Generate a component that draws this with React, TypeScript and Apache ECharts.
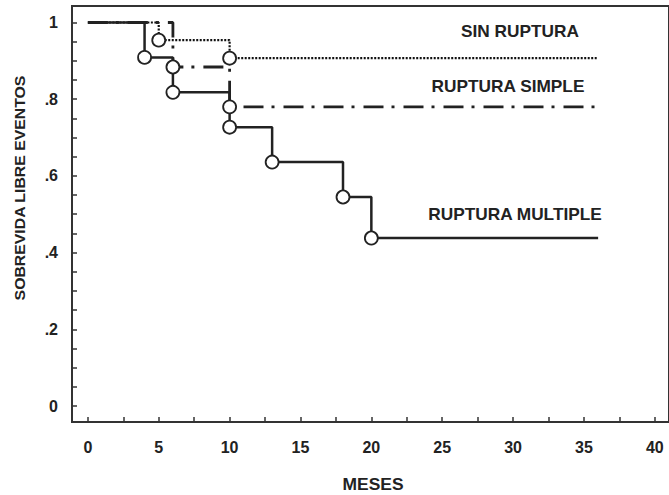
import React, { useEffect, useRef } from "react";
import * as echarts from "echarts";

// Kaplan-Meier step data (months, survival)
const SIN_MONTHS = [0, 5, 10, 36];
const SIN_VALUES = [1, 0.954, 0.907, 0.907];
const SIMPLE_MONTHS = [0, 6, 10, 36];
const SIMPLE_VALUES = [1, 0.884, 0.78, 0.78];
const MULTI_MONTHS = [0, 4, 6, 10, 13, 18, 20, 36];
const MULTI_VALUES = [1, 0.909, 0.818, 0.727, 0.636, 0.545, 0.438, 0.438];

const X_TICKS = [0, 2.5, 5, 7.5, 10, 12.5, 15, 17.5, 20, 22.5, 25, 27.5, 30, 32.5, 35, 37.5, 40];
const X_LABELS = [0, 5, 10, 15, 20, 25, 30, 35, 40];
const Y_TICKS = [0, 0.05, 0.1, 0.15, 0.2, 0.25, 0.3, 0.35, 0.4, 0.45, 0.5, 0.55, 0.6, 0.65, 0.7, 0.75, 0.8, 0.85, 0.9, 0.95, 1];
const Y_LABELS = [0, 0.2, 0.4, 0.6, 0.8, 1];

const SERIES_NAMES = ["SIN RUPTURA", "RUPTURA SIMPLE", "RUPTURA MULTIPLE"];
const X_TITLE = "MESES";
const Y_TITLE = "SOBREVIDA LIBRE EVENTOS";

const INK = "#222";
const FONT = "'Liberation Sans', Arial, sans-serif";

function pairs(xs: number[], ys: number[]) {
  return xs.map((x, i) => [x, ys[i]]);
}
function events(xs: number[], ys: number[]) {
  return pairs(xs, ys).slice(1, -1);
}

export default function App() {
  const ref = useRef<HTMLDivElement>(null);
  useEffect(() => {
    if (!ref.current) return;
    const chart = echarts.init(ref.current, null, { renderer: "svg" });
    const circleStyle = {
      color: "#fff",
      borderColor: INK,
      borderWidth: 1.8,
      opacity: 1,
    };
    const label = (text: string, x: number, y: number, size: number, sx: number) => ({
      type: "text",
      x,
      y,
      scaleX: sx,
      style: {
        text,
        font: `bold ${size}px ${FONT}`,
        fill: INK,
        textAlign: "center",
        textVerticalAlign: "middle",
      },
    });
    const scatter = (data: number[][]) => ({
      type: "scatter",
      data,
      symbol: "circle",
      symbolSize: 13,
      itemStyle: circleStyle,
      emphasis: { disabled: true },
      z: 5,
    });
    chart.setOption({
      animation: false,
      grid: {
        left: 72,
        top: 6,
        right: -3,
        bottom: 73,
        show: true,
        borderColor: "#333",
        borderWidth: 2,
      },
      xAxis: {
        type: "value",
        min: -1.12,
        max: 41,
        axisLine: { show: true, onZero: false, lineStyle: { color: "#333", width: 2 } },
        axisTick: {
          show: true,
          inside: true,
          length: 5,
          customValues: X_TICKS,
          lineStyle: { color: "#333", width: 1.5 },
        },
        axisLabel: {
          customValues: X_LABELS,
          margin: 17,
          fontSize: 16,
          fontWeight: "bold",
          fontFamily: FONT,
          color: INK,
        },
        splitLine: { show: false },
      },
      yAxis: {
        type: "value",
        min: -0.0417,
        max: 1.043,
        axisLine: { show: true, onZero: false, lineStyle: { color: "#333", width: 2 } },
        axisTick: {
          show: true,
          inside: true,
          length: 5,
          customValues: Y_TICKS,
          lineStyle: { color: "#333", width: 1.5 },
        },
        axisLabel: {
          customValues: Y_LABELS,
          margin: 14,
          fontSize: 16,
          fontWeight: "bold",
          fontFamily: FONT,
          color: INK,
          formatter: (v: number) => {
            if (v === 0) return "0";
            if (v === 1) return "1";
            return "." + Math.round(v * 10);
          },
        },
        splitLine: { show: false },
      },
      graphic: [
        label(SERIES_NAMES[0], 520, 32, 16, 1.08),
        label(SERIES_NAMES[1], 508, 87, 16, 1.08),
        label(SERIES_NAMES[2], 515, 215, 16, 1.08),
        label(X_TITLE, 373, 485, 16, 1.09),
        { ...label(Y_TITLE, 20, 188, 14, 1.13), rotation: Math.PI / 2 },
      ],
      series: [
        {
          name: SERIES_NAMES[0],
          type: "line",
          step: "end",
          data: pairs(SIN_MONTHS, SIN_VALUES),
          showSymbol: false,
          lineStyle: { color: "#111", width: 2.2, type: [2, 1.5] },
          z: 2,
        },
        {
          name: SERIES_NAMES[1],
          type: "line",
          step: "end",
          data: pairs(SIMPLE_MONTHS, SIMPLE_VALUES),
          showSymbol: false,
          lineStyle: { color: INK, width: 2.8, type: [20, 8, 3, 9] },
          z: 2,
        },
        {
          name: SERIES_NAMES[2],
          type: "line",
          step: "end",
          data: pairs(MULTI_MONTHS, MULTI_VALUES),
          showSymbol: false,
          lineStyle: { color: INK, width: 2.5 },
          z: 3,
        },
        scatter(events(SIN_MONTHS, SIN_VALUES)),
        scatter(events(SIMPLE_MONTHS, SIMPLE_VALUES)),
        scatter(events(MULTI_MONTHS, MULTI_VALUES)),
      ],
    });
    return () => chart.dispose();
  }, []);
  return (
    <div
      ref={ref}
      style={{ position: "fixed", left: 0, top: 0, width: 669, height: 495, background: "#fff" }}
    />
  );
}
